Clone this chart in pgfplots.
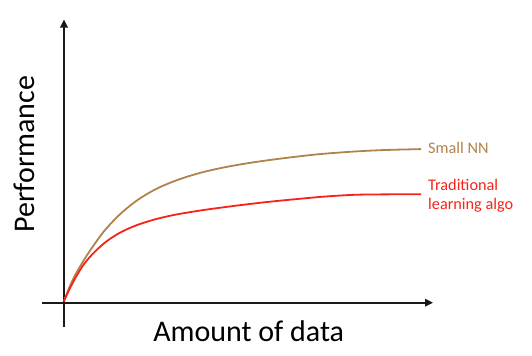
\documentclass[border=0pt]{standalone}
\usepackage{fontspec}
\setmainfont{Carlito}
\usepackage{pgfplots}
\pgfplotsset{compat=1.18}
\usetikzlibrary{arrows.meta}
\definecolor{nnbrown}{RGB}{176,130,76}
\definecolor{tradred}{RGB}{245,35,25}
\begin{document}
\begin{tikzpicture}
\begin{axis}[
  scale only axis,
  width=391bp, height=307.7bp,
  xmin=-22, xmax=369, ymin=-24.5, ymax=283,
  axis lines=middle,
  axis line style={line width=1.8bp, black!90, -{Triangle[length=8bp,width=7.5bp]}},
  xtick=\empty, ytick=\empty,
  clip=false,
]
\path (axis cs:-64,302.5) rectangle (axis cs:468,-52.5);
\addplot[nnbrown, line width=1.8bp, smooth] coordinates {
(0,1.5) (5,14.5) (12,29.2) (24,49) (40,71.4) (57,89.3) (74,102.9) (91,113.1)
(108,120.6) (124,126.2) (141,131) (160,135.2) (180,138.8) (200,141.8)
(225,145.05) (256,148.5) (290,151.05) (320,152.55) (357,153.5)};
\addplot[tradred, line width=1.8bp, smooth] coordinates {
(0,1.5) (5,12.5) (12,25.8) (20,38.6) (30,50.1) (42,60.9) (56,70) (72,77.2)
(90,83) (108,87.3) (126,90.5) (145,93.4) (170,96.7) (200,100.3) (230,103.3)
(260,106) (290,107.8) (320,108.25) (357,108.3)};
\node[anchor=base, font=\fontsize{30.1}{36}\selectfont] at (axis cs:184.7,-39.2) {Amount of data};
\node[anchor=base, rotate=90, font=\fontsize{30.1}{36}\selectfont] at (axis cs:-29,148.5) {Performance};
\node[anchor=base west, text=nnbrown, font=\fontsize{16.3}{19}\selectfont, inner sep=0pt] at (axis cs:364,149.2) {Small NN};
\node[anchor=base west, text=tradred, font=\fontsize{16.3}{19}\selectfont, inner sep=0pt] at (axis cs:364,111.8) {Traditional};
\node[anchor=base west, text=tradred, font=\fontsize{16.3}{19}\selectfont, inner sep=0pt] at (axis cs:364,93.5) {learning algo};
\end{axis}
\end{tikzpicture}
\end{document}
